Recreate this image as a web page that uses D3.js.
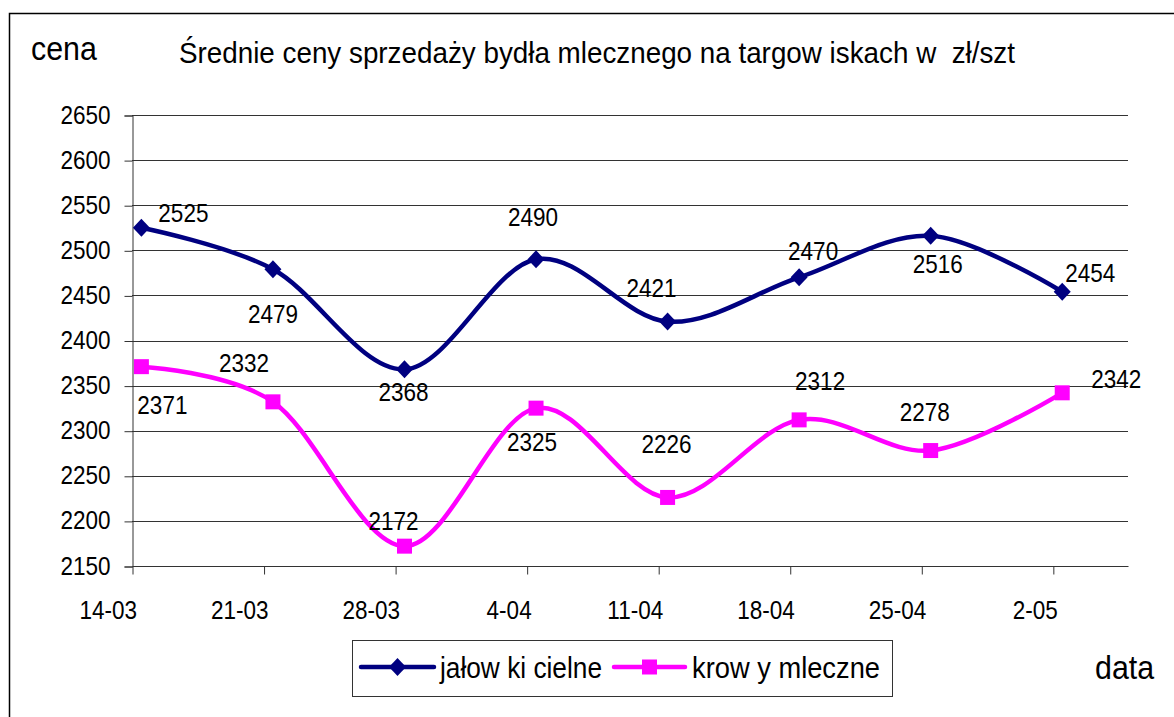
<!DOCTYPE html>
<html>
<head>
<meta charset="utf-8">
<script src="https://cdn.jsdelivr.net/npm/d3@7"></script>
<style>
  body { margin: 0; background: #fff; }
  svg { display: block; font-family: "Liberation Sans", Arial, sans-serif; }
</style>
</head>
<body>
<svg id="chart" width="1174" height="717"></svg>
<script>
// tick dates (day-month) and the dates of the observations
var tickLabels = ['14-03', '21-03', '28-03', '4-04', '11-04', '18-04', '25-04', '2-05'];
var tickDates = [[2, 14], [2, 21], [2, 28], [3, 4], [3, 11], [3, 18], [3, 25], [4, 2]];

var jalowki = [2525, 2479, 2368, 2490, 2421, 2470, 2516, 2454];
var krowy = [2371, 2332, 2172, 2325, 2226, 2312, 2278, 2342];

var yTicks = [2150, 2200, 2250, 2300, 2350, 2400, 2450, 2500, 2550, 2600, 2650];

// label placement relative to point (dx, dy of label centre)
var jalowkiLabelOff = [[42, -15], [0, 45], [-1, 23], [-3, -42], [-16, -34], [14, -26], [7, 28], [28, -19]];
var krowyLabelOff = [[21, 38], [-29, -39], [-11, -25], [-4, 34], [-1, -53], [21, -39], [-6, -39], [54, -14]];

var svg = d3.select('#chart');

var margin = { left: 132, top: 115, right: 1128, bottom: 566 };
var FONT = '"Liberation Sans", Arial, sans-serif';

function utc(m, d, h) { return new Date(Date.UTC(2005, m, d, h || 0)); }

var x = d3.scaleUtc()
    .domain([utc(2, 14), utc(4, 6)])
    .range([margin.left, margin.right]);

var y = d3.scaleLinear()
    .domain([2150, 2650])
    .range([margin.bottom, margin.top]);

var ticks = tickDates.map(function (d) { return utc(d[0], d[1]); });
var pointDates = tickDates.map(function (d) { return utc(d[0], d[1], 12); });

// the original's text is a bit narrower than Arial
function condense(sel, k) {
    sel.each(function () {
        var w = this.getComputedTextLength();
        d3.select(this).attr('textLength', w * k).attr('lengthAdjust', 'spacingAndGlyphs');
    });
}

// outer frame
svg.append('rect')
    .attr('x', 9.5).attr('y', 13.5)
    .attr('width', 1200).attr('height', 800)
    .attr('fill', 'none').attr('stroke', '#000').attr('stroke-width', 1.5);

// gridlines
svg.append('g').selectAll('line')
    .data(yTicks.slice(1))
    .enter().append('line')
    .attr('x1', margin.left).attr('x2', margin.right)
    .attr('y1', function (d) { return Math.round(y(d)) + 0.5; })
    .attr('y2', function (d) { return Math.round(y(d)) + 0.5; })
    .attr('stroke', '#333').attr('stroke-width', 1);

// y axis
var yAxis = d3.axisLeft(y).tickValues(yTicks).tickFormat(d3.format('d'))
    .tickSize(8).tickPadding(14);
var gy = svg.append('g')
    .attr('transform', 'translate(' + (margin.left + 0.5) + ',0.5)')
    .call(yAxis);
gy.select('.domain').attr('stroke', '#333');
gy.selectAll('.tick line').attr('stroke', '#333');
gy.selectAll('text').attr('font-size', 25).attr('fill', '#000')
    .attr('font-family', FONT).attr('dy', '0.3em')
    .call(condense, 0.9);

// x axis
var xAxis = d3.axisBottom(x)
    .tickValues(ticks)
    .tickFormat(function (d, i) { return tickLabels[i]; })
    .tickSize(8).tickSizeOuter(0);
var gx = svg.append('g')
    .attr('transform', 'translate(0.5,' + (margin.bottom + 0.5) + ')')
    .call(xAxis);
gx.select('.domain').attr('stroke', '#333').attr('d', 'M' + margin.left + ',0H' + margin.right);
gx.selectAll('.tick line').attr('stroke', '#333');
gx.selectAll('text')
    .attr('font-size', 25).attr('fill', '#000')
    .attr('font-family', FONT)
    .attr('text-anchor', 'end')
    .attr('x', 4).attr('y', 52).attr('dy', 0)
    .call(condense, 0.9);

var line = d3.line()
    .x(function (d, i) { return x(pointDates[i]); })
    .y(function (d) { return y(d); })
    .curve(d3.curveCardinal.tension(0));

var series = [
    { name: 'jałow ki cielne', values: jalowki, color: '#000080', marker: 'diamond', off: jalowkiLabelOff },
    { name: 'krow y mleczne', values: krowy, color: '#FF00FF', marker: 'square', off: krowyLabelOff }
];

var diamondPath = 'M0,-9L8.5,0L0,9L-8.5,0Z';
var squarePath = 'M-7.5,-7.5H7.5V7.5H-7.5Z';

series.forEach(function (s) {
    svg.append('path')
        .datum(s.values)
        .attr('d', line)
        .attr('fill', 'none')
        .attr('stroke', s.color)
        .attr('stroke-width', 4.5)
        .attr('stroke-linejoin', 'round');

    svg.append('g').selectAll('path')
        .data(s.values)
        .enter().append('path')
        .attr('d', s.marker === 'diamond' ? diamondPath : squarePath)
        .attr('transform', function (d, i) { return 'translate(' + x(pointDates[i]) + ',' + y(d) + ')'; })
        .attr('fill', s.color);

    svg.append('g').selectAll('text')
        .data(s.values)
        .enter().append('text')
        .attr('x', function (d, i) { return x(pointDates[i]) + s.off[i][0]; })
        .attr('y', function (d, i) { return y(d) + s.off[i][1] + 9; })
        .attr('text-anchor', 'middle')
        .attr('font-size', 25)
        .attr('fill', '#000')
        .text(function (d) { return d; })
        .call(condense, 0.9);
});

// titles
svg.append('text')
    .attr('x', 179).attr('y', 63)
    .attr('font-size', 30)
    .style('white-space', 'pre')
    .attr('textLength', 836).attr('lengthAdjust', 'spacingAndGlyphs')
    .text('Średnie ceny sprzedaży bydła mlecznego na targow iskach w  zł/szt');

svg.append('text')
    .attr('x', 31).attr('y', 60)
    .attr('font-size', 33)
    .text('cena')
    .call(condense, 0.92);

svg.append('text')
    .attr('x', 1095).attr('y', 679)
    .attr('font-size', 33)
    .text('data')
    .call(condense, 0.92);

// legend
var legend = svg.append('g');
legend.append('rect')
    .attr('x', 352.5).attr('y', 640.5)
    .attr('width', 540).attr('height', 56)
    .attr('fill', '#fff').attr('stroke', '#333').attr('stroke-width', 1);

var legendItems = [
    { s: series[0], x1: 361, x2: 434, tx: 440, tw: 162 },
    { s: series[1], x1: 614, x2: 685, tx: 692, tw: 188 }
];
var ly = 667;
legendItems.forEach(function (it) {
    legend.append('line')
        .attr('x1', it.x1).attr('x2', it.x2)
        .attr('y1', ly).attr('y2', ly)
        .attr('stroke', it.s.color).attr('stroke-width', 4.5)
        .attr('stroke-linecap', 'round');
    legend.append('path')
        .attr('d', it.s.marker === 'diamond' ? diamondPath : squarePath)
        .attr('transform', 'translate(' + ((it.x1 + it.x2) / 2) + ',' + ly + ')')
        .attr('fill', it.s.color);
    legend.append('text')
        .attr('x', it.tx).attr('y', ly + 11)
        .attr('font-size', 30)
        .attr('textLength', it.tw).attr('lengthAdjust', 'spacingAndGlyphs')
        .text(it.s.name);
});
</script>
</body>
</html>
